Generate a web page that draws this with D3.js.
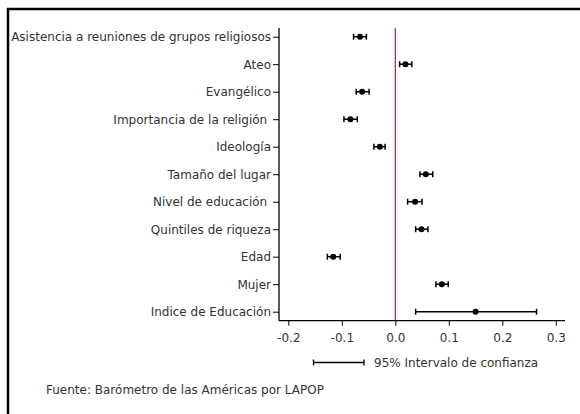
<!DOCTYPE html>
<html>
<head>
<meta charset="utf-8">
<script src="https://cdn.jsdelivr.net/npm/d3@7"></script>
<style>
  html, body { margin: 0; padding: 0; background: #fff; }
  svg text { font-family: "DejaVu Sans", Verdana, sans-serif; fill: #333; }
</style>
</head>
<body>
<svg id="chart" width="580" height="414"></svg>
<script>
const categories = [
  "Asistencia a reuniones de grupos religiosos",
  "Ateo",
  "Evangélico",
  "Importancia de la religión ",
  "Ideología",
  "Tamaño del lugar",
  "Nivel de educación ",
  "Quintiles de riqueza",
  "Edad",
  "Mujer",
  "Indice de Educación"
];
const estimates = [-0.066, 0.019, -0.062, -0.084, -0.029, 0.057, 0.037, 0.049, -0.116, 0.087, 0.150];
const lower    = [-0.078, 0.008, -0.073, -0.096, -0.040, 0.046, 0.023, 0.038, -0.127, 0.076, 0.038];
const upper    = [-0.054, 0.031, -0.049, -0.071, -0.019, 0.070, 0.050, 0.061, -0.103, 0.099, 0.264];
const xTicks = [-0.2, -0.1, 0.0, 0.1, 0.2, 0.3];
const legendLabel = "95% Intervalo de confianza";
const sourceNote = "Fuente: Barómetro de las Américas por LAPOP";

const svg = d3.select("#chart");
const fontSize = 12;

// frame (top and left borders)
svg.append("line").attr("x1", 7).attr("x2", 580).attr("y1", 9).attr("y2", 9)
  .attr("stroke", "#000").attr("stroke-width", 2.5);
svg.append("line").attr("x1", 8).attr("x2", 8).attr("y1", 8).attr("y2", 414)
  .attr("stroke", "#000").attr("stroke-width", 2.5);

const x = d3.scaleLinear().domain([-0.2, 0.3]).range([288.3, 555.8]);
const y = d3.scalePoint().domain(categories).range([36.7, 311.7]);

const axisLeftX = 279, axisBottomY = 320.7, axisTopY = 28, axisRightX = 565;

// y axis
const gy = svg.append("g").attr("transform", `translate(${axisLeftX},0)`)
  .call(d3.axisLeft(y).tickSize(6).tickPadding(2).tickSizeOuter(0));
gy.select(".domain").attr("d", `M0,${axisTopY}V${axisBottomY}`).attr("stroke", "#000").attr("stroke-width", 1.3);
gy.selectAll(".tick line").attr("stroke", "#000").attr("stroke-width", 1);
gy.selectAll(".tick text").style("font-size", fontSize + "px").style("white-space", "pre")
  .attr("fill", "#333").attr("font-family", null);

// x axis
const fmt = d => d3.format(".1f")(d).replace("\u2212", "-");
const gx = svg.append("g").attr("transform", `translate(0,${axisBottomY})`)
  .call(d3.axisBottom(x).tickValues(xTicks).tickFormat(fmt).tickSize(5).tickPadding(8).tickSizeOuter(0));
gx.select(".domain").attr("d", `M${axisLeftX},0H${axisRightX}`).attr("stroke", "#000").attr("stroke-width", 1.3);
gx.selectAll(".tick line").attr("stroke", "#000").attr("stroke-width", 1);
gx.selectAll(".tick text").style("font-size", fontSize + "px").attr("fill", "#333").attr("font-family", null);

// reference line at 0
svg.append("line").attr("x1", x(0)).attr("x2", x(0)).attr("y1", axisTopY).attr("y2", axisBottomY)
  .attr("stroke", "#a3283c").attr("stroke-width", 1.2);

// CI bars
const capH = 3;
const rows = categories.map((c, i) => ({ c, est: estimates[i], lo: lower[i], hi: upper[i] }));
const g = svg.append("g");
const rowG = g.selectAll("g.row").data(rows).join("g").attr("class", "row");
rowG.append("line").attr("x1", d => x(d.lo)).attr("x2", d => x(d.hi))
  .attr("y1", d => y(d.c)).attr("y2", d => y(d.c)).attr("stroke", "#000").attr("stroke-width", 1.5);
rowG.append("line").attr("x1", d => x(d.lo)).attr("x2", d => x(d.lo))
  .attr("y1", d => y(d.c) - capH).attr("y2", d => y(d.c) + capH).attr("stroke", "#000").attr("stroke-width", 1.5);
rowG.append("line").attr("x1", d => x(d.hi)).attr("x2", d => x(d.hi))
  .attr("y1", d => y(d.c) - capH).attr("y2", d => y(d.c) + capH).attr("stroke", "#000").attr("stroke-width", 1.5);
rowG.append("circle").attr("cx", d => x(d.est)).attr("cy", d => y(d.c)).attr("r", 3).attr("fill", "#000");

// legend
const ly = 362.5, lx1 = 313.5, lx2 = 364;
const lg = svg.append("g");
lg.append("line").attr("x1", lx1).attr("x2", lx2).attr("y1", ly).attr("y2", ly).attr("stroke", "#000").attr("stroke-width", 1.3);
lg.append("line").attr("x1", lx1).attr("x2", lx1).attr("y1", ly - capH).attr("y2", ly + capH).attr("stroke", "#000").attr("stroke-width", 1.3);
lg.append("line").attr("x1", lx2).attr("x2", lx2).attr("y1", ly - capH).attr("y2", ly + capH).attr("stroke", "#000").attr("stroke-width", 1.3);
lg.append("text").attr("x", 374).attr("y", ly).attr("dy", "0.35em").style("font-size", fontSize + "px").text(legendLabel);

// source
svg.append("text").attr("x", 46).attr("y", 390).attr("dy", "0.35em").style("font-size", "12px").text(sourceNote);
</script>
</body>
</html>
